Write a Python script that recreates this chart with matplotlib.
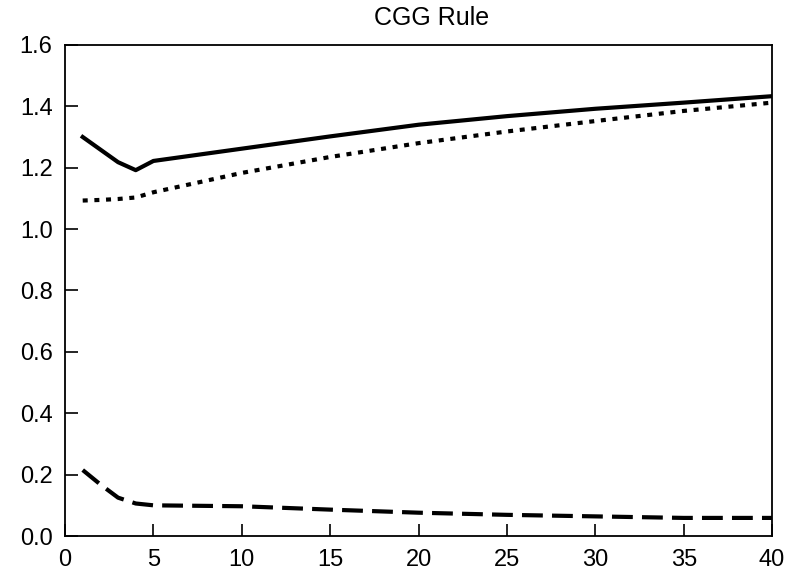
import matplotlib
matplotlib.use("Agg")
import matplotlib.pyplot as plt

plt.rcParams['font.family'] = ['Liberation Sans', 'DejaVu Sans']

title = "CGG Rule"
x_solid = [1, 3, 4, 5, 10, 15, 20, 25, 30, 35, 40]
y_solid = [1.30, 1.218, 1.192, 1.222, 1.262, 1.302, 1.340, 1.368, 1.392, 1.412, 1.433]
x_dot = [1, 2, 3, 4, 5, 10, 15, 20, 25, 30, 35, 40]
y_dot = [1.093, 1.095, 1.098, 1.103, 1.120, 1.183, 1.235, 1.280, 1.318, 1.352, 1.385, 1.412]
x_dash = [1, 2, 3, 4, 5, 10, 15, 20, 25, 30, 35, 40]
y_dash = [0.215, 0.168, 0.125, 0.106, 0.100, 0.097, 0.086, 0.076, 0.069, 0.064, 0.059, 0.059]
xticks = [0, 5, 10, 15, 20, 25, 30, 35, 40]
yticks = [0.0, 0.2, 0.4, 0.6, 0.8, 1.0, 1.2, 1.4, 1.6]

fig = plt.figure(figsize=(7.96, 5.76), dpi=100)
ax = fig.add_axes([0.0817, 0.0694, 0.970 - 0.0817, 0.922 - 0.0694])

ax.plot(x_solid, y_solid, color='black', lw=3.0, solid_joinstyle='round')
ax.plot(x_dot, y_dot, color='black', lw=3.0, linestyle=(0, (1.2, 1.6)), dash_capstyle='butt')
ax.plot(x_dash, y_dash, color='black', lw=3.0, linestyle=(0, (5, 2.2)), dash_capstyle='butt')

ax.set_xlim(0, 40)
ax.set_ylim(0, 1.6)
ax.set_xticks(xticks)
ax.set_yticks(yticks)
ax.set_xticklabels([str(v) for v in xticks])
ax.set_yticklabels([f"{v:.1f}" for v in yticks])
ax.tick_params(direction='in', length=9, width=1.2, labelsize=17, pad=9,
               top=False, right=False)
ax.tick_params(axis='x', pad=9)
for s in ax.spines.values():
    s.set_linewidth(1.3)
fig.text(432 / 796, 1 - 18 / 576, title, fontsize=18, ha='center', va='center')

fig.savefig("out.png", dpi=100)
